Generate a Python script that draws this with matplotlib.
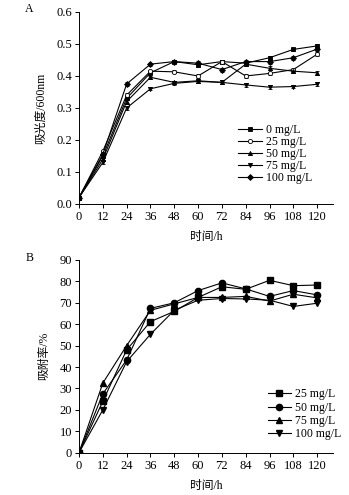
import matplotlib
matplotlib.use('Agg')
import matplotlib.pyplot as plt
from matplotlib.ticker import FormatStrFormatter

plt.rcParams['font.family'] = ['Liberation Serif', 'Noto Sans CJK SC']
plt.rcParams['font.size'] = 8

hours = [0, 12, 24, 36, 48, 60, 72, 84, 96, 108, 120]

# panel A: optical density at 600 nm
od_labels = ['0 mg/L', '25 mg/L', '50 mg/L', '75 mg/L', '100 mg/L']
od_0 = [0.02, 0.15, 0.33, 0.41, 0.445, 0.435, 0.445, 0.44, 0.457, 0.483, 0.494]
od_25 = [0.02, 0.165, 0.34, 0.415, 0.413, 0.40, 0.445, 0.40, 0.408, 0.42, 0.468]
od_50 = [0.02, 0.14, 0.32, 0.396, 0.38, 0.385, 0.38, 0.437, 0.424, 0.415, 0.41]
od_75 = [0.02, 0.13, 0.30, 0.36, 0.377, 0.383, 0.38, 0.372, 0.365, 0.367, 0.374]
od_100 = [0.02, 0.155, 0.375, 0.437, 0.445, 0.44, 0.42, 0.445, 0.445, 0.457, 0.484]
od_err = [0.003, 0.005, 0.006, 0.005, 0.005, 0.006, 0.006, 0.005, 0.006, 0.006, 0.006]

# panel B: adsorption rate (%)
ad_labels = ['25 mg/L', '50 mg/L', '75 mg/L', '100 mg/L']
ad_25 = [0, 24, 48, 61.2, 66, 72.5, 77.5, 76.3, 80.5, 78, 78.3]
ad_50 = [0, 27.5, 43.3, 67.4, 70, 75.7, 79.3, 76.5, 73, 75.7, 73.7]
ad_75 = [0, 32.5, 50, 66.5, 69.5, 72.5, 72.5, 73, 70.8, 74, 72.3]
ad_100 = [0, 20, 42.5, 55.3, 66.5, 71.2, 72, 71.8, 71.2, 68.3, 69.8]

fig = plt.figure(figsize=(3.49, 4.95), dpi=100)
axA = fig.add_axes([0.2264, 0.5879, 0.7278, 0.3879])
axB = fig.add_axes([0.2264, 0.0855, 0.7278, 0.3893])

mk_A = ['s', 'o', '^', 'v', 'D']
fc_A = ['k', 'white', 'k', 'k', 'k']
hA = []
for vals, lab, m, fc in zip([od_0, od_25, od_50, od_75, od_100], od_labels, mk_A, fc_A):
    cont = axA.errorbar(hours, vals, yerr=od_err, color='k', lw=0.8, marker=m, ms=3,
                        mfc=fc, mec='k', mew=0.6, capsize=1.5, elinewidth=0.6)
    hA.append(cont[0])

mk_B = ['s', 'o', '^', 'v']
for vals, lab, m in zip([ad_25, ad_50, ad_75, ad_100], ad_labels, mk_B):
    axB.plot(hours, vals, color='k', lw=0.8, marker=m, ms=4.5, label=lab)

for ax in (axA, axB):
    ax.spines['top'].set_visible(False)
    ax.spines['right'].set_visible(False)
    ax.spines['left'].set_linewidth(0.7)
    ax.spines['bottom'].set_linewidth(0.7)
    ax.set_xlim(0, 128)
    ax.set_xticks(hours)
    ax.tick_params(direction='out', length=3, width=0.7, labelsize=9, pad=2)
    ax.set_xlabel('时间/h', fontsize=8.5, labelpad=6)

axA.set_ylim(0, 0.6)
axA.set_yticks([0, 0.1, 0.2, 0.3, 0.4, 0.5, 0.6])
axA.yaxis.set_major_formatter(FormatStrFormatter('%.1f'))
axA.set_ylabel('吸光度/600nm', fontsize=8.5, labelpad=7)

axB.set_ylim(0, 90)
axB.set_yticks(range(0, 91, 10))
axB.set_ylabel('吸附率/%', fontsize=8.5, labelpad=7)

axA.legend(hA, od_labels, loc='lower right', bbox_to_anchor=(0.94, 0.075), frameon=False,
           fontsize=8.5, handlelength=2.0, handletextpad=0.3, labelspacing=0.0, borderpad=0)
axB.legend(loc='lower right', bbox_to_anchor=(1.055, 0.035), frameon=False, fontsize=8.5,
           handlelength=2.0, handletextpad=0.3, labelspacing=0.1, borderpad=0)

fig.text(0.072, 0.994, 'A', fontsize=8.5, va='top')
fig.text(0.072, 0.49, 'B', fontsize=8.5, va='top')

fig.savefig('out.png', dpi=100)
